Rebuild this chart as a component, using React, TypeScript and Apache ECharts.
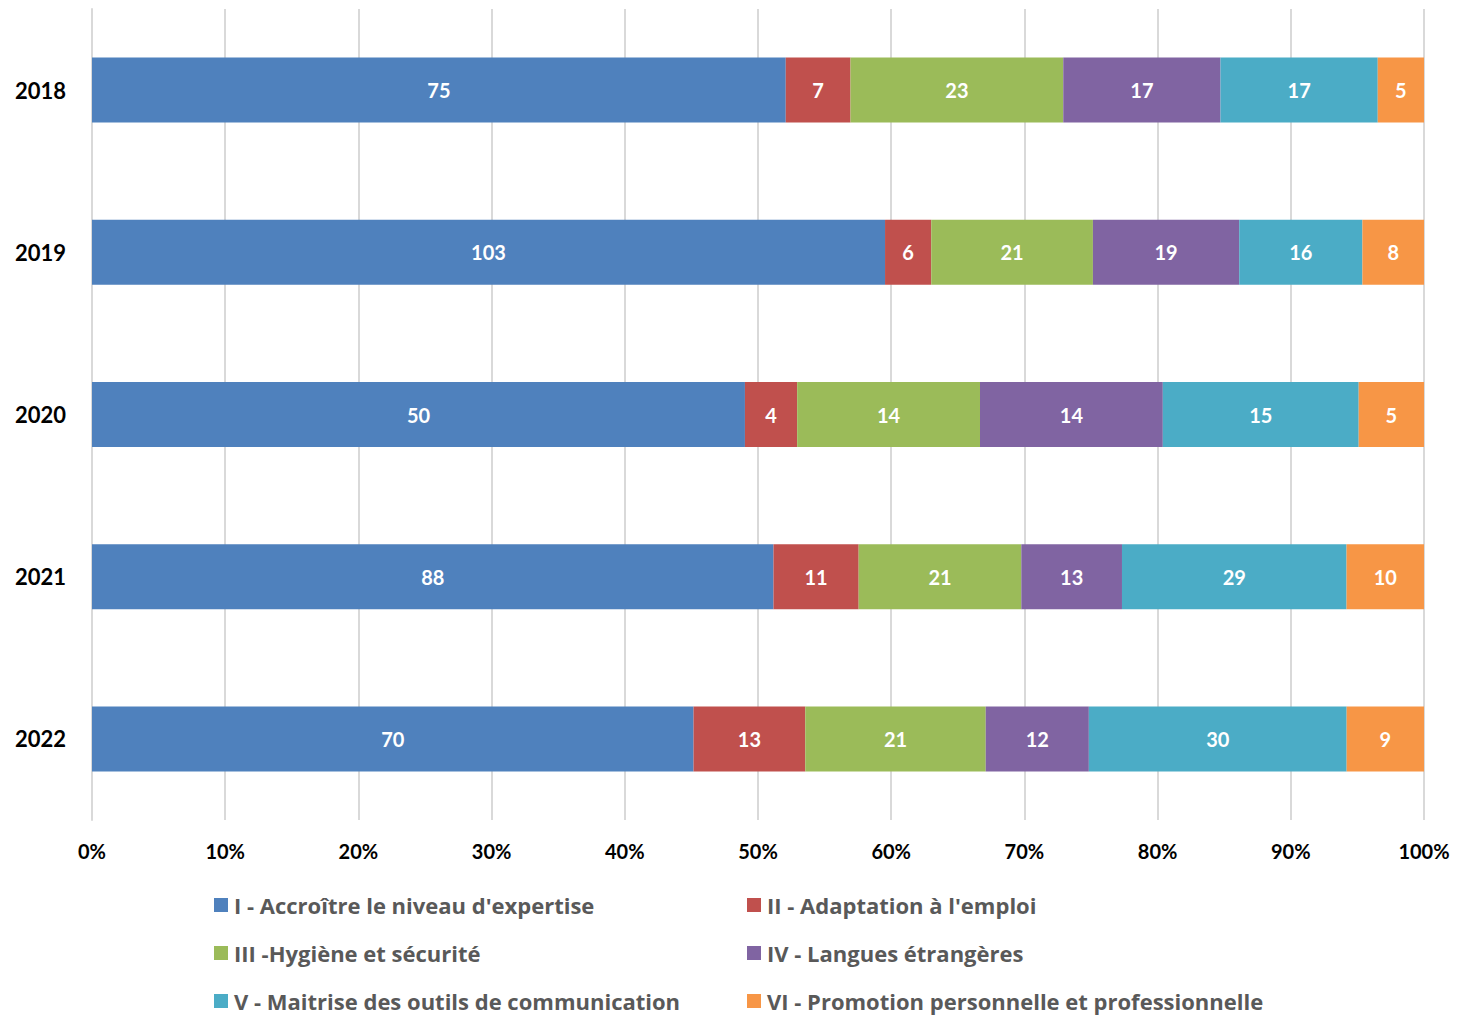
import React, { useEffect, useRef } from "react";
import * as echarts from "echarts";

const years = ["2018", "2019", "2020", "2021", "2022"];
const seriesNames = [
  "I - Accroître le niveau d'expertise",
  "II - Adaptation à l'emploi",
  "III -Hygiène et sécurité",
  "IV - Langues étrangères",
  "V - Maitrise des outils de communication",
  "VI - Promotion personnelle et professionnelle",
];
const colors = ["#4F81BD", "#C0504D", "#9BBB59", "#8064A2", "#4BACC6", "#F79646"];
const expertise = [75, 103, 50, 88, 70];
const adaptation = [7, 6, 4, 11, 13];
const hygiene = [23, 21, 14, 21, 21];
const langues = [17, 19, 14, 13, 12];
const outils = [17, 16, 15, 29, 30];
const promotion = [5, 8, 5, 10, 9];
const allValues = [expertise, adaptation, hygiene, langues, outils, promotion];
const xTicks = [0, 10, 20, 30, 40, 50, 60, 70, 80, 90, 100];

const FONT = "Lato, 'Open Sans', sans-serif";
const LFONT = "'Open Sans', Lato, sans-serif";

export default function App() {
  const ref = useRef<HTMLDivElement>(null);
  useEffect(() => {
    const chart = echarts.init(ref.current!, null, { renderer: "svg" });
    const totals = years.map((_, i) => allValues.reduce((s, arr) => s + arr[i], 0));
    const series = allValues.map((arr, k) => ({
      name: seriesNames[k],
      type: "bar",
      stack: "total",
      barWidth: 65,
      itemStyle: { color: colors[k] },
      label: {
        show: true,
        position: "inside",
        color: "#fff",
        fontFamily: FONT,
        fontWeight: "bold",
        fontSize: 20,
        formatter: (p: any) => String(arr[p.dataIndex]),
      },
      data: arr.map((v, i) => (v / totals[i]) * 100),
    }));
    const legendCommon = {
      orient: "vertical",
      itemWidth: 14,
      itemHeight: 14,
      itemGap: 24,
      icon: "rect",
      height: 140,
      padding: 0,
      textStyle: {
        color: "#595959",
        fontFamily: LFONT,
        fontWeight: "bold",
        fontSize: 22,
        lineHeight: 24,
        padding: [0, 0, 0, 1],
      },
    };
    chart.setOption({
      animation: false,
      grid: { left: 92, right: 34, top: 9, bottom: 195, containLabel: false },
      xAxis: {
        type: "value",
        min: 0,
        max: 100,
        interval: 10,
        axisLabel: {
          formatter: (v: number) => (xTicks.includes(v) ? v + "%" : ""),
          color: "#000",
          fontFamily: FONT,
          fontWeight: "bold",
          fontSize: 20,
          margin: 21,
        },
        splitLine: { show: true, lineStyle: { color: "#D9D9D9", width: 2 } },
        axisLine: { show: false },
        axisTick: { show: false },
      },
      yAxis: {
        type: "category",
        data: years,
        inverse: true,
        axisLabel: {
          color: "#000",
          fontFamily: FONT,
          fontWeight: "bold",
          fontSize: 22,
          margin: 26,
        },
        axisLine: { show: true, lineStyle: { color: "#D9D9D9", width: 2 } },
        axisTick: { show: false },
        splitLine: { show: false },
      },
      legend: [
        { ...legendCommon, left: 214, top: 893, data: [seriesNames[0], seriesNames[2], seriesNames[4]] },
        { ...legendCommon, left: 747, top: 893, data: [seriesNames[1], seriesNames[3], seriesNames[5]] },
      ],
      series,
    });
    return () => chart.dispose();
  }, []);
  return <div ref={ref} style={{ width: 1458, height: 1015, position: "absolute", left: 0, top: 0 }} />;
}
